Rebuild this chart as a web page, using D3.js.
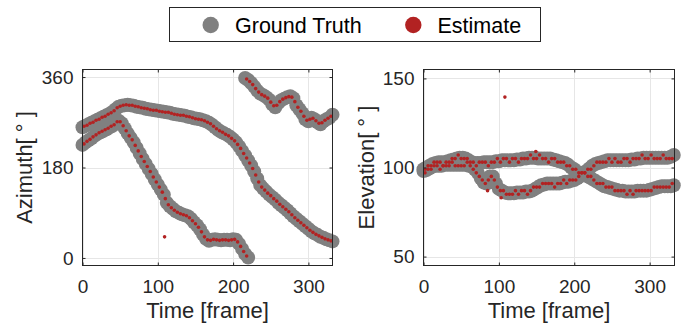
<!DOCTYPE html>
<html><head><meta charset="utf-8">
<script src="https://cdn.jsdelivr.net/npm/d3@7"></script>
<style>body{margin:0;background:#fff} svg{display:block}</style>
</head><body><svg id="c" width="683" height="330"></svg>
<script>
// ---------------- DATA ----------------
const legendLabels = ["Ground Truth", "Estimate"];
const xTicks = [0, 100, 200, 300];
const azTicks = [0, 180, 360];
const elTicks = [50, 100, 150];
const frameStep = 4;

// Azimuth ground truth tracks (sampled every 4 frames)
const azGT1Start = 0;
const azGT1 = [260,263,266,269,272,275,278,281,284,287,
  291,296,301,303,304,305,304,303,301,300,
  299,297,296,295,294,293,292,291,290,289,
  287,286,285,284,283,281,280,278,277,276,
  274,272,269,265,260,255,251,248,245,241,
  236,230,222,213,204,194,184,172,158,145,
  138,132,126,121,116,110,105,100,95,89,
  83,78,73,68,63,58,53,49,46,42,
  40,37,35,33];
const azGT2Start = 0;
const azGT2 = [225,230,234,238,243,247,250,253,256,260,
  263,268,273,268,258,248,239,230,219,208,
  197,187,177,167,156,146,136,126,110,103,
  98,93,90,87,85,83,78,71,65,57,
  47,38,34,36,37,36,35,36,36,35,
  37,36,28,18,8,1];
const azGT3Start = 216;
const azGT3 = [358,354,348,341,333,327,324,320,315,306,
  300,308,314,317,320,322,318,304,296,288,
  276,272,279,276,270,266,272,276,279,285];

// Azimuth estimates
const azEst1Start = 2;
const azEst1 = [262,264,268,270,274,276,280,282,286,289,
  293,299,302,304,305,304,304,302,301,299,
  298,297,295,294,294,292,291,290,290,288,
  286,285,284,284,282,281,279,277,276,275,
  273,270,267,262,257,253,250,246,243,238,
  233,226,218,208,199,189,178,165,151,141,
  135,129,124,118,113,107,102,97,92,86,
  80,75,70,65,60,55,51,47,44,41,
  38,36,34];
const azEst2Start = 2;
const azEst2 = [227,232,236,241,245,249,252,255,258,262,
  265,271,271,263,253,243,235,224,213,202,
  192,182,172,161,151,141,131,118,106,100,
  95,91,88,86,84,80,74,68,61,52,
  42,36,35,37,36,35,36,36,35,36,
  37,32,23,13,4];
const azEst3Start = 218;
const azEst3 = [356,351,345,337,330,325,322,318,310,303,
  304,311,316,319,321,320,311,300,292,282,
  274,276,278,273,268,269,274,278,282];
const azOutliers = [[109, 42]];

// Elevation ground truth tracks
const elGT1Start = 0;
const elGT1 = [99,100,101,102,102.5,103,103,103,103.5,104,
  104.5,105,105.5,105.5,105,104,103,102.5,102.5,102.5,
  103,103,103,103,103.5,103.5,104,104,104,104,
  104,104.5,104.5,105,105,105.5,105.5,105.5,105,105,
  105,105,105,104.5,104,103.5,103,102.5,101.5,100,
  99,97.5,97,96.5,95.5,94.5,93.5,92.5,91.5,90.5,
  89.5,89,88.5,88,87.5,87,87,86.5,86.5,86.5,
  86.5,87,87,87,87,87.5,88,88.5,89,89.5,
  89.5,89.5,89.5,90];
const elGT2Start = 0;
const elGT2 = [98,98.5,99.5,100.5,101,101,101,101.5,101.5,101.5,
  101.5,101.5,101.5,101.5,101.5,101,100.5,99,97,94,
  91.5,91,95,95,91,88,87,86,85.5,85.5,
  85.5,86,86,86,86.5,86.5,87,88,89,90,
  90.5,91,91,91,91,91,91.5,92,92,92.5,
  93,94,95,96.5,98,99.5,101,102,102.5,103,
  103.5,104,104,104,104,104,104,104,104,104.5,
  104.5,105,105,105.5,105.5,105.5,105.5,105.5,105.5,105.5,
  105.5,105.5,106,107];

// Elevation estimates
const elEst1Start = 2;
const elEst1 = [99,101,101,103,103,103,101,103,103,105,
  105,107,105,105,105,103,103,101,103,103,
  103,101,103,103,105,103,105,105,103,105,
  105,103,105,105,105,107,105,105,107,105,
  105,103,105,105,103,103,103,101,101,99,
  99,97,97,97,95,95,93,91,91,91,
  89,89,89,87,87,87,87,85,87,85,
  87,87,87,87,87,87,89,89,89,89,
  89,89,91];
const elEst2Start = 2;
const elEst2 = [97,99,99,101,101,99,101,101,101,103,
  101,101,101,101,103,101,99,97,95,93,
  91,93,95,93,89,87,87,85,85,85,
  87,85,87,87,85,87,89,89,89,91,
  91,91,91,89,91,91,93,91,93,93,
  93,95,97,97,99,99,101,103,103,103,
  103,105,103,105,103,103,105,105,103,105,
  105,105,107,105,105,107,105,105,105,107,
  105,105,105];
const elOutliers = [[85, 87], [103, 83], [108, 139.5], [149, 109]];

// ---------------- DRAWING ----------------
const GRAY = "#808080", RED = "#b22222", INK = "#262626";
const FONT = "'Liberation Sans', Arial, Helvetica, sans-serif";
const svg = d3.select("#c").style("font-family", FONT);

function toPoints(start, vals) {
  return vals.map((v, i) => [start + frameStep * i, v]);
}

function panel(cfg) {
  const x = d3.scaleLinear().domain(cfg.xDomain).range([cfg.left, cfg.right]);
  const y = d3.scaleLinear().domain(cfg.yDomain).range([cfg.bottom, cfg.top]);
  const g = svg.append("g");

  // grid
  g.append("g").selectAll("line").data(xTicks).join("line")
    .attr("x1", d => Math.round(x(d)) + 0.5).attr("x2", d => Math.round(x(d)) + 0.5)
    .attr("y1", cfg.top).attr("y2", cfg.bottom)
    .attr("stroke", "#e6e6e6").attr("stroke-width", 1);
  g.append("g").selectAll("line").data(cfg.yTicks).join("line")
    .attr("y1", d => Math.round(y(d)) + 0.5).attr("y2", d => Math.round(y(d)) + 0.5)
    .attr("x1", cfg.left).attr("x2", cfg.right)
    .attr("stroke", "#e6e6e6").attr("stroke-width", 1);

  // ground truth
  const gtPts = cfg.gt.flatMap(t => toPoints(t[0], t[1]));
  g.append("g").selectAll("circle").data(gtPts).join("circle")
    .attr("cx", d => x(d[0])).attr("cy", d => y(d[1])).attr("r", 7)
    .attr("fill", GRAY);
  // estimates
  const estPts = cfg.est.flatMap(t => toPoints(t[0], t[1])).concat(cfg.outliers);
  g.append("g").selectAll("circle").data(estPts).join("circle")
    .attr("cx", d => x(d[0])).attr("cy", d => y(d[1])).attr("r", 1.8)
    .attr("fill", RED);

  // axes (inward ticks on all sides)
  const ax = g.append("g").attr("transform", `translate(0,${cfg.bottom})`)
    .call(d3.axisBottom(x).tickValues(xTicks).tickSize(-3).tickPadding(14));
  const axT = g.append("g").attr("transform", `translate(0,${cfg.top})`)
    .call(d3.axisTop(x).tickValues(xTicks).tickSize(-3).tickFormat(""));
  const ay = g.append("g").attr("transform", `translate(${cfg.left},0)`)
    .call(d3.axisLeft(y).tickValues(cfg.yTicks).tickSize(-3).tickPadding(9));
  const ayR = g.append("g").attr("transform", `translate(${cfg.right},0)`)
    .call(d3.axisRight(y).tickValues(cfg.yTicks).tickSize(-3).tickFormat(""));
  [ax, axT, ay, ayR].forEach(a => {
    a.select(".domain").remove();
    a.selectAll("line").attr("stroke", INK);
    a.selectAll("text").attr("fill", INK).style("font-size", "19px").style("font-family", FONT);
  });

  // box
  g.append("rect").attr("x", cfg.left).attr("y", cfg.top)
    .attr("width", cfg.right - cfg.left).attr("height", cfg.bottom - cfg.top)
    .attr("fill", "none").attr("stroke", INK).attr("stroke-width", 1);

  // labels
  g.append("text").attr("x", (cfg.left + cfg.right) / 2).attr("y", 318)
    .attr("text-anchor", "middle").attr("fill", INK).style("font-size", "22px")
    .text(cfg.xLabel);
  g.append("text").attr("transform", `translate(${cfg.yLabelX},${(cfg.top + cfg.bottom) / 2}) rotate(-90)`)
    .attr("text-anchor", "middle").attr("fill", INK).style("font-size", "22px")
    .text(cfg.yLabel);
}

panel({
  left: 82.5, right: 332.5, top: 69.5, bottom: 265.5,
  xDomain: [0, 332], yDomain: [-15, 375], yTicks: azTicks,
  gt: [[azGT1Start, azGT1], [azGT2Start, azGT2], [azGT3Start, azGT3]],
  est: [[azEst1Start, azEst1], [azEst2Start, azEst2], [azEst3Start, azEst3]],
  outliers: azOutliers,
  xLabel: "Time [frame]", yLabel: "Azimuth[ ° ]", yLabelX: 32
});
panel({
  left: 423.5, right: 674.5, top: 69.5, bottom: 265.5,
  xDomain: [0, 333], yDomain: [45, 155], yTicks: elTicks,
  gt: [[elGT1Start, elGT1], [elGT2Start, elGT2]],
  est: [[elEst1Start, elEst1], [elEst2Start, elEst2]],
  outliers: elOutliers,
  xLabel: "Time [frame]", yLabel: "Elevation[ ° ]", yLabelX: 374
});

// legend
const lg = svg.append("g");
lg.append("rect").attr("x", 169.5).attr("y", 7.5).attr("width", 371).attr("height", 34)
  .attr("fill", "#fff").attr("stroke", INK).attr("stroke-width", 1);
const legendItems = [
  {label: legendLabels[0], color: GRAY, cx: 210.7, tx: 235},
  {label: legendLabels[1], color: RED, cx: 413.3, tx: 437.5}
];
lg.selectAll("circle").data(legendItems).join("circle")
  .attr("cx", d => d.cx).attr("cy", 25).attr("r", 8.2).attr("fill", d => d.color);
lg.selectAll("text").data(legendItems).join("text")
  .attr("x", d => d.tx).attr("y", 33).attr("fill", "#000")
  .style("font-size", "21.5px").text(d => d.label);
</script>
</body></html>
